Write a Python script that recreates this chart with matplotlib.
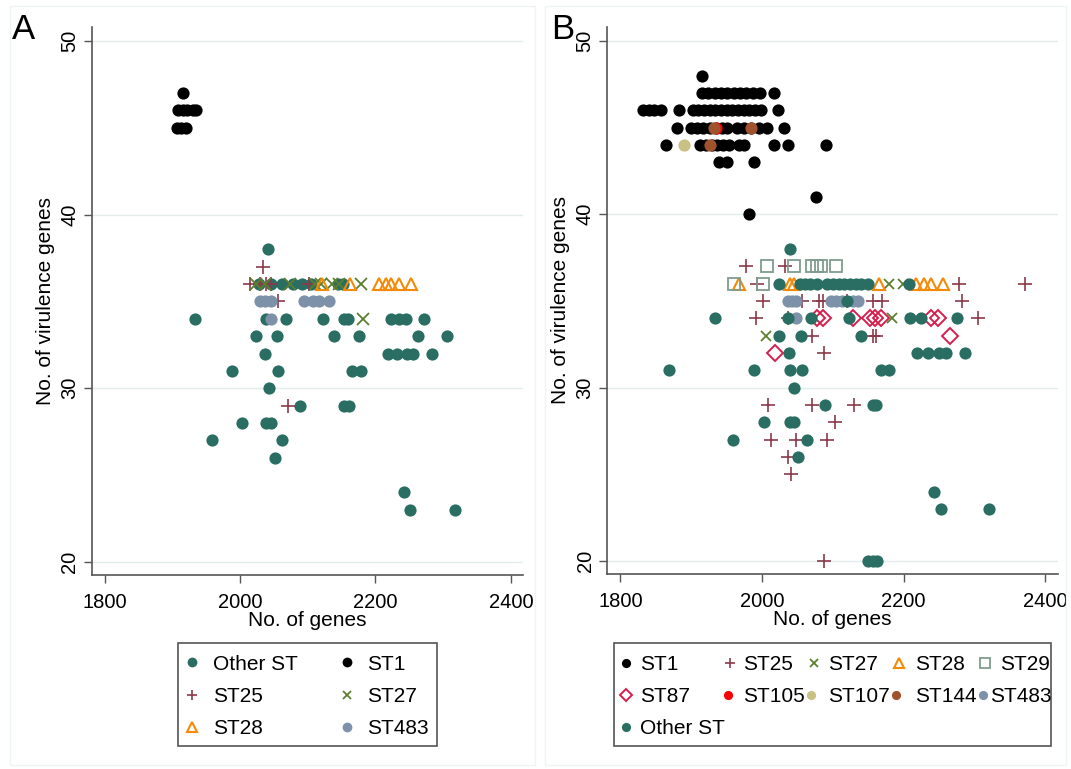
import numpy as np
import matplotlib.pyplot as plt
from matplotlib.lines import Line2D
from matplotlib.patches import Rectangle

plt.rcParams['font.family'] = ['Liberation Sans', 'DejaVu Sans']

# ---------------- Panel A data ----------------
a_other_x = [2041,
             2028, 2045, 2062, 2078, 2092, 2105, 2145, 2152,
             1933, 2038, 2068, 2123, 2154, 2159, 2223, 2235, 2245, 2272,
             2023, 2054, 2138, 2175, 2263, 2306,
             2037, 2218, 2232, 2247, 2255, 2283,
             1988, 2056, 2166, 2178,
             2043,
             2088, 2154, 2161,
             2002, 2038, 2046,
             1958, 2062,
             2051,
             2242,
             2251, 2318]
a_other_y = [38,
             36, 36, 36, 36, 36, 36, 36, 36,
             34, 34, 34, 34, 34, 34, 34, 34, 34, 34,
             33, 33, 33, 33, 33, 33,
             32, 32, 32, 32, 32, 32,
             31, 31, 31, 31,
             30,
             29, 29, 29,
             28, 28, 28,
             27, 27,
             26,
             24,
             23, 23]
a_st1_x = [1916, 1908, 1915, 1922, 1930, 1935, 1906, 1912, 1920]
a_st1_y = [47, 46, 46, 46, 46, 46, 45, 45, 45]
a_st25_x = [2034, 2014, 2030, 2038, 2045, 2101, 2056, 2071]
a_st25_y = [37, 36, 36, 36, 36, 36, 35, 29]
a_st27_x = [2024, 2036, 2073, 2110, 2120, 2135, 2146, 2178, 2182]
a_st27_y = [36, 36, 36, 36, 36, 36, 36, 36, 34]
a_st28_x = [2121, 2163, 2205, 2215, 2223, 2235, 2253]
a_st28_y = [36, 36, 36, 36, 36, 36, 36]
a_st483_x = [2029, 2036, 2046, 2095, 2107, 2117, 2132, 2046]
a_st483_y = [35, 35, 35, 35, 35, 35, 35, 34]

# ---------------- Panel B data ----------------
b_st1_x = [1915,
           1915, 1924, 1933, 1942, 1951, 1960, 1969, 1978, 1987, 1997, 2017,
           1832, 1840, 1848, 1857, 1883, 1902, 1910, 1918, 1926, 1934, 1942,
           1950, 1958, 1966, 1974, 1982, 1990, 1998, 2022,
           1880, 1899, 1908, 1917, 1926, 1935, 1943, 1951, 1965, 1975, 1985,
           1995, 2007, 2031,
           1865, 1913, 1921, 1929, 1937, 1945, 1953, 1967, 1975, 2017, 2037, 2090,
           1939, 1950, 1989,
           2076,
           1982]
b_st1_y = [48,
           47, 47, 47, 47, 47, 47, 47, 47, 47, 47, 47,
           46, 46, 46, 46, 46, 46, 46, 46, 46, 46, 46,
           46, 46, 46, 46, 46, 46, 46, 46,
           45, 45, 45, 45, 45, 45, 45, 45, 45, 45, 45,
           45, 45, 45,
           44, 44, 44, 44, 44, 44, 44, 44, 44, 44, 44, 44,
           43, 43, 43,
           41,
           40]
b_st25_x = [1977, 2033, 1993, 2278, 2372,
            2002, 2056, 2081, 2086, 2120, 2157, 2170, 2282,
            1992, 2036, 2305, 2071, 2156, 2161, 2088,
            2009, 2071, 2130, 2103, 2012, 2048, 2092, 2037, 2041, 2088]
b_st25_y = [37, 37, 36, 36, 36,
            35, 35, 35, 35, 35, 35, 35, 35,
            34, 34, 34, 33, 33, 33, 32,
            29, 29, 29, 28, 27, 27, 27, 26, 25, 20]
b_st27_x = [2180, 2199, 2184, 2005]
b_st27_y = [36, 36, 34, 33]
b_st28_x = [1967, 2040, 2045, 2165, 2217, 2229, 2238, 2255]
b_st28_y = [36, 36, 36, 36, 36, 36, 36, 36]
b_st29_x = [2007, 2045, 2071, 2078, 2083, 2104, 1960, 2002]
b_st29_y = [37, 37, 37, 37, 37, 37, 36, 36]
b_st87_x = [2078, 2086, 2128, 2153, 2160, 2168, 2238, 2248, 2265, 2018]
b_st87_y = [34, 34, 34, 34, 34, 34, 34, 34, 33, 32]
b_st105_x = [1935]
b_st105_y = [45]
b_st107_x = [1890]
b_st107_y = [44]
b_st144_x = [1932, 1985, 1926]
b_st144_y = [45, 45, 44]
b_st483_x = [2036, 2043, 2048, 2097, 2105, 2113, 2128, 2135, 2048]
b_st483_y = [35, 35, 35, 35, 35, 35, 35, 35, 34]
b_other_x = [2040,
             2024, 2053, 2060, 2068, 2078, 2092, 2100, 2108, 2116, 2124, 2132,
             2140, 2149, 2208,
             2120,
             1933, 2036, 2069, 2123, 2209, 2224, 2275,
             2024, 2055, 2140,
             2038, 2219, 2235, 2250, 2260, 2286,
             1869, 1988, 2040, 2056, 2168, 2180,
             2045,
             2089, 2156, 2161,
             2003, 2039, 2045,
             1959, 2064,
             2051,
             2243,
             2253, 2320,
             2149, 2156, 2162]
b_other_y = [38,
             36, 36, 36, 36, 36, 36, 36, 36, 36, 36, 36,
             36, 36, 36,
             35,
             34, 34, 34, 34, 34, 34, 34,
             33, 33, 33,
             32, 32, 32, 32, 32, 32,
             31, 31, 31, 31, 31, 31,
             30,
             29, 29, 29,
             28, 28, 28,
             27, 27,
             26,
             24,
             23, 23,
             20, 20, 20]

# marker styles
teal = '#2a6e63'
styles = {
    'Other ST': dict(marker='o', color=teal, ms=8.8, mew=0),
    'ST1': dict(marker='o', color='black', ms=8.8, mew=0),
    'ST25': dict(marker='+', color='#8c3a4a', ms=9.5, mew=1.2),
    'ST27': dict(marker='x', color='#5c7f2f', ms=7.5, mew=1.3),
    'ST28': dict(marker='^', mfc='none', mec='#f58a07', ms=9, mew=1.5),
    'ST29': dict(marker='s', mfc='none', mec='#7f9c8e', ms=9, mew=1.3),
    'ST87': dict(marker='D', mfc='none', mec='#d61e4d', ms=8, mew=1.4),
    'ST105': dict(marker='o', color='#ff0000', ms=8.8, mew=0),
    'ST107': dict(marker='o', color='#c9c184', ms=8.8, mew=0),
    'ST144': dict(marker='o', color='#a0522d', ms=8.8, mew=0),
    'ST483': dict(marker='o', color='#7d92a8', ms=8.8, mew=0),
}

W, H = 1071, 769


def style_axes(ax):
    ax.set_xlim(1781, 2418)
    ax.set_ylim(19.25, 50.8)
    ax.set_xticks([1800, 2000, 2200, 2400])
    ax.set_yticks([20, 30, 40, 50])
    ax.grid(axis='y', color='#e2eeee', linewidth=1.0)
    ax.set_axisbelow(True)
    for s in ['top', 'right']:
        ax.spines[s].set_visible(False)
    for s in ['left', 'bottom']:
        ax.spines[s].set_color('#555555')
        ax.spines[s].set_linewidth(1.2)
    ax.tick_params(axis='both', labelsize=14.5, length=6, width=1, color='#555555')
    ax.tick_params(axis='x', pad=7)
    ax.tick_params(axis='y', pad=3)
    for lab in ax.get_yticklabels():
        lab.set_rotation(90)
        lab.set_va('center')
    ax.set_xlabel('No. of genes', fontsize=15, labelpad=-1)
    ax.set_ylabel('No. of virulence genes', fontsize=15, labelpad=4)


def legend_entry(name, mx, tx, y, scale=0.8):
    st = dict(styles[name])
    st['ms'] = st['ms'] * scale
    fig.add_artist(Line2D([mx / W], [1 - y / H], transform=fig.transFigure,
                          linestyle='none', **st))
    fig.text(tx / W, 1 - y / H, name, fontsize=15, va='center_baseline', ha='left')


def legend_frame(x0, y0, x1, y1):
    fig.add_artist(Rectangle((x0 / W, 1 - y1 / H), (x1 - x0) / W, (y1 - y0) / H,
                             transform=fig.transFigure, fill=False,
                             edgecolor='#555555', linewidth=1.2))


fig = plt.figure(figsize=(W / 100, H / 100), dpi=100)

# faint panel borders
for x0, x1 in [(10, 535), (545, 1066)]:
    fig.add_artist(Rectangle((x0 / W, 4 / H), (x1 - x0) / W, (763 - 4) / H,
                             transform=fig.transFigure, fill=False,
                             edgecolor='#eef3f3', linewidth=1.0))

axA = fig.add_axes([92 / W, 1 - 575 / H, (523 - 92) / W, (575 - 27) / H])
axB = fig.add_axes([607 / W, 1 - 574 / H, (1058 - 607) / W, (574 - 27) / H])

for name, xs, ys in [('Other ST', a_other_x, a_other_y), ('ST1', a_st1_x, a_st1_y),
                     ('ST25', a_st25_x, a_st25_y), ('ST27', a_st27_x, a_st27_y),
                     ('ST28', a_st28_x, a_st28_y), ('ST483', a_st483_x, a_st483_y)]:
    st = dict(styles[name])
    if name == 'ST27':
        st['ms'] = 9
    axA.plot(xs, ys, linestyle='none', label=name, **st)

for name, xs, ys in [('ST1', b_st1_x, b_st1_y), ('ST25', b_st25_x, b_st25_y),
                     ('ST27', b_st27_x, b_st27_y), ('ST28', b_st28_x, b_st28_y),
                     ('ST29', b_st29_x, b_st29_y), ('ST87', b_st87_x, b_st87_y),
                     ('ST105', b_st105_x, b_st105_y), ('ST107', b_st107_x, b_st107_y),
                     ('ST144', b_st144_x, b_st144_y), ('ST483', b_st483_x, b_st483_y),
                     ('Other ST', b_other_x, b_other_y)]:
    axB.plot(xs, ys, linestyle='none', label=name, **styles[name])

style_axes(axA)
style_axes(axB)

# legend A (2 columns, row-major)
legend_frame(178, 643, 437, 746)
for name, mx, tx, y in [('Other ST', 192, 213, 662), ('ST1', 347, 367, 662),
                        ('ST25', 192, 213, 695), ('ST27', 347, 367, 695),
                        ('ST28', 192, 213, 727), ('ST483', 347, 367, 727)]:
    legend_entry(name, mx, tx, y)

# legend B (5 columns, row-major)
legend_frame(614, 643, 1051, 746)
for name, mx, tx, y in [('ST1', 626, 640, 663), ('ST25', 730, 743, 663),
                        ('ST27', 814, 828, 663), ('ST28', 899, 915, 663),
                        ('ST29', 985, 1000, 663),
                        ('ST87', 626, 640, 695), ('ST105', 728, 743, 695),
                        ('ST107', 811, 828, 695), ('ST144', 896, 915, 695),
                        ('ST483', 983, 990, 695),
                        ('Other ST', 626, 640, 727)]:
    legend_entry(name, mx, tx, y, scale=0.75)

fig.text(12 / W, 1 - 39 / H, 'A', fontsize=25, va='baseline', ha='left')
fig.text(551 / W, 1 - 39 / H, 'B', fontsize=25, va='baseline', ha='left')

fig.savefig('out.png', dpi=100)
